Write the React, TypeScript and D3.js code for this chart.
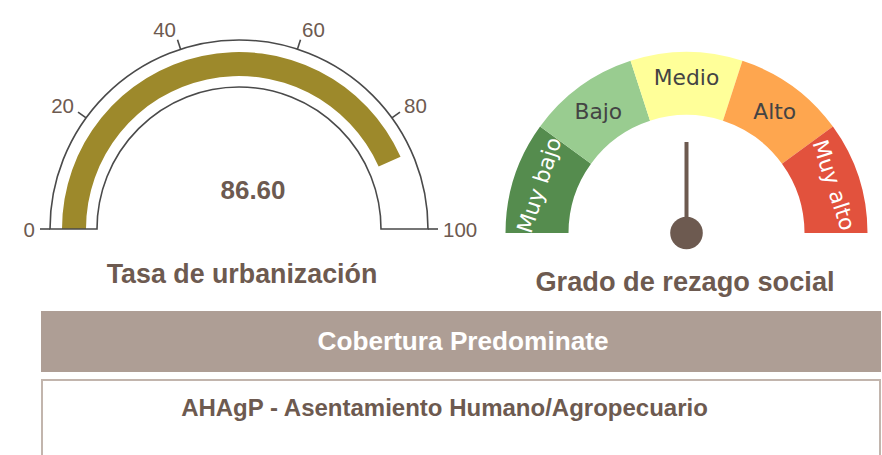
import React from "react";
import * as d3 from "d3";

// ---- data ----
const URBAN_TICKS = [0, 20, 40, 60, 80, 100];
const URBAN_VALUE = 86.6;
const URBAN_TITLE = "Tasa de urbanización";

const REZAGO_LEVELS = ["Muy bajo", "Bajo", "Medio", "Alto", "Muy alto"];
const REZAGO_COLORS = ["#558c4e", "#99cc90", "#ffff99", "#fea64f", "#e2523d"];
const REZAGO_LABEL_COLORS = ["#ffffff", "#444444", "#444444", "#444444", "#ffffff"];
const REZAGO_VALUE = "Medio";
const REZAGO_TITLE = "Grado de rezago social";

const COVER_HEADER = "Cobertura Predominate";
const COVER_VALUE = "AHAgP - Asentamiento Humano/Agropecuario";

const BROWN = "#6d5a50";
const W = 882;
const H = 455;

export default function App() {
  // left gauge
  const lcx = 239, lcy = 229;
  const ang = d3.scaleLinear().domain([0, 100]).range([-Math.PI / 2, Math.PI / 2]);
  const outline = d3.arc()({ innerRadius: 142, outerRadius: 189, startAngle: -Math.PI / 2, endAngle: Math.PI / 2 }) as string;
  const band = d3.arc()({ innerRadius: 153, outerRadius: 177, startAngle: ang(0), endAngle: ang(URBAN_VALUE) }) as string;

  // right gauge
  const rcx = 686.5, rcy = 233;
  const seg = d3.scaleBand().domain(REZAGO_LEVELS).range([-Math.PI / 2, Math.PI / 2]).padding(0);
  const segArc = d3.arc().innerRadius(118).outerRadius(181);
  const needleA = (seg(REZAGO_VALUE) as number) + seg.bandwidth() / 2;

  return (
    <svg width={W} height={H} style={{ position: "absolute", left: 0, top: 0, background: "#fff" }}>
      {/* left gauge */}
      <g transform={`translate(${lcx},${lcy})`}>
        <path d={band} fill="#9d892b" />
        <path d={outline} fill="none" stroke="#4a4a4a" strokeWidth={1.6} />
        {URBAN_TICKS.map((t) => {
          const a = ang(t);
          const s = Math.sin(a), c = -Math.cos(a);
          const lx = s * 204;
          const ly = c * 210;
          const anchor = s < -0.01 ? "end" : s > 0.01 ? "start" : "middle";
          return (
            <g key={t}>
              <line x1={s * 189} y1={c * 189} x2={s * 199} y2={c * 199} stroke="#4a4a4a" strokeWidth={1.6} />
              <text x={lx} y={ly} textAnchor={anchor} dominantBaseline="central"
                fontFamily="Liberation Sans, Arial, sans-serif" fontSize={20.5} fill={BROWN}>{t}</text>
            </g>
          );
        })}
        <text x={14} y={-30} textAnchor="middle" fontFamily="Liberation Sans, Arial, sans-serif"
          fontWeight="bold" fontSize={26} fill={BROWN}>{URBAN_VALUE.toFixed(2)}</text>
      </g>
      <text x={242} y={283} textAnchor="middle" fontFamily="Liberation Sans, Arial, sans-serif"
        fontWeight="bold" fontSize={26.8} fill={BROWN}>{URBAN_TITLE}</text>

      {/* right gauge */}
      <g transform={`translate(${rcx},${rcy})`}>
        {REZAGO_LEVELS.map((l, i) => {
          const a0 = seg(l) as number;
          const a1 = a0 + seg.bandwidth();
          const d = segArc({ innerRadius: 118, outerRadius: 181, startAngle: a0, endAngle: a1 }) as string;
          return <path key={l} d={d} fill={REZAGO_COLORS[i]} />;
        })}
        {REZAGO_LEVELS.map((l, i) => {
          const am = (seg(l) as number) + seg.bandwidth() / 2;
          const edge = i === 0 || i === REZAGO_LEVELS.length - 1;
          const r = edge ? 155 : i === 2 ? 156 : 150;
          const x = Math.sin(am) * r;
          const y = -Math.cos(am) * r;
          const rot = edge ? (am * 180) / Math.PI : 0;
          return (
            <text key={l} transform={`translate(${x},${y}) rotate(${rot})`} textAnchor="middle"
              dominantBaseline="central" fontFamily="DejaVu Sans, Verdana, sans-serif" fontSize={21.8}
              fill={REZAGO_LABEL_COLORS[i]}>{l}</text>
          );
        })}
        <line x1={0} y1={0} x2={Math.sin(needleA) * 91} y2={-Math.cos(needleA) * 91} stroke="#6d5a50" strokeWidth={4} />
        <circle r={16.3} fill="#6d5a50" />
      </g>
      <text x={685} y={291} textAnchor="middle" fontFamily="Liberation Sans, Arial, sans-serif"
        fontWeight="bold" fontSize={27.2} fill={BROWN}>{REZAGO_TITLE}</text>

      {/* bottom boxes */}
      <rect x={41} y={311} width={840} height={61} fill="#ae9e95" />
      <text x={463} y={350} textAnchor="middle" fontFamily="Liberation Sans, Arial, sans-serif"
        fontWeight="bold" fontSize={26.2} fill="#ffffff">{COVER_HEADER}</text>
      <rect x={42} y={380} width={838} height={90} fill="#fff" stroke="#c2b5ad" strokeWidth={2} />
      <text x={444.5} y={416} textAnchor="middle" fontFamily="Liberation Sans, Arial, sans-serif"
        fontWeight="bold" fontSize={24} fill={BROWN}>{COVER_VALUE}</text>
    </svg>
  );
}
